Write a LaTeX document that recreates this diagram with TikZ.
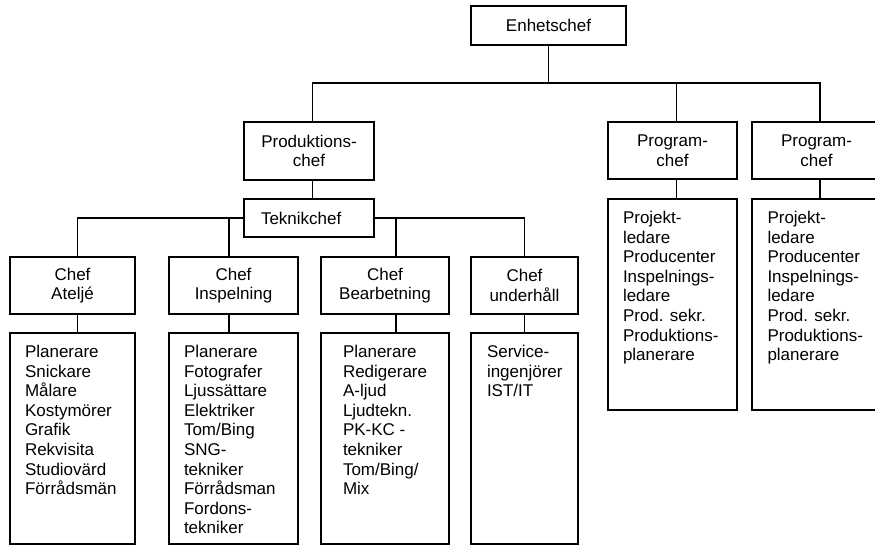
\documentclass[tikz,border=0pt]{standalone}
\usepackage{fontspec}
\setmainfont{Liberation Sans}
% top-aligned staff list: height, width, left inset, lines
\newcommand\roster[4]{\parbox[t][#1][t]{#2}{\raggedright\leftskip=#3\relax\vspace*{10.7pt}\strut #4}}
\tikzset{
  chefbox/.style={draw, anchor=north west, inner sep=0pt, outer sep=0pt, align=center},
  listbox/.style={draw, anchor=north west, inner sep=0pt, outer sep=0pt},
}
\begin{document}
\begin{tikzpicture}[x=1pt, y=-1pt, line width=1.3pt,
  font=\fontsize{17pt}{19.6pt}\selectfont]
\useasboundingbox (0,0) rectangle (875,546);
\fill[white] (0,0) rectangle (875,546);

% management
\node[chefbox, minimum width=155pt, minimum height=39pt] (E) at (471,6) {Enhetschef};
\node[chefbox, minimum width=130pt, minimum height=58pt] (P) at (244,122) {Produktions-\\chef};
\node[chefbox, minimum width=130pt, minimum height=38pt, inner xsep=17pt,
      text width=96pt, align=left] (T) at (244,199) {Teknikchef};
\node[chefbox, minimum width=129pt, minimum height=57pt] (PC1) at (608,122) {Program-\\chef};
\node[chefbox, minimum width=129pt, minimum height=57pt] (PC2) at (752,122) {Program-\\chef};

% department heads
\node[chefbox, minimum width=125pt, minimum height=57pt] (CA) at (10,257) {Chef\\Ateljé};
\node[chefbox, minimum width=129pt, minimum height=57pt] (CI) at (169,257) {Chef\\Inspelning};
\node[chefbox, minimum width=128pt, minimum height=57pt] (CB) at (321,257) {Chef\\Bearbetning};
\node[chefbox, minimum width=107pt, minimum height=57pt] (CU) at (471,257) {Chef\\underhåll};

% staff lists
\node[listbox] (LA) at (10,333) {\roster{211pt}{125pt}{15pt}{Planerare\\Snickare\\Målare\\Kostymörer\\Grafik\\Rekvisita\\Studiovärd\\Förrådsmän}};
\node[listbox] (LI) at (169,333) {\roster{211pt}{129pt}{15pt}{Planerare\\Fotografer\\Ljussättare\\Elektriker\\Tom/Bing\\SNG-\\tekniker\\Förrådsman\\Fordons-\\tekniker}};
\node[listbox] (LB) at (321,333) {\roster{211pt}{128pt}{22pt}{Planerare\\Redigerare\\A-ljud\\Ljudtekn.\\PK-KC -\\tekniker\\Tom/Bing/\\Mix}};
\node[listbox] (LU) at (471,333) {\roster{211pt}{107pt}{16pt}{Service-\\ingenjörer\\IST/IT}};
\node[listbox] (PL1) at (608,199) {\roster{211pt}{129pt}{15pt}{Projekt-\\ledare\\Producenter\\Inspelnings-\\ledare\\Prod. sekr.\\Produktions-\\planerare}};
\node[listbox] (PL2) at (752,199) {\roster{211pt}{129pt}{15.5pt}{Projekt-\\ledare\\Producenter\\Inspelnings-\\ledare\\Prod. sekr.\\Produktions-\\planerare}};

% connector drop points
\coordinate (topbus) at (0,83);
\coordinate (dP) at ([xshift=3.7pt]P.north);
\coordinate (dQ1) at ([xshift=4.2pt]PC1.north);
\coordinate (dQ2) at ([xshift=3.5pt]PC2.north);
\coordinate (dA) at ([xshift=5.2pt]CA.north);
\coordinate (dI) at ([xshift=-4.5pt]CI.north);
\coordinate (dB) at ([xshift=11pt]CB.north);
\coordinate (dU) at (CU.north);

% top level
\draw (E.south) |- (dP |- topbus) -- (dP);
\draw (E.south) |- (dQ2 |- topbus) -- (dQ2);
\draw (dQ1 |- topbus) -- (dQ1);
\draw (P.south -| dP) -- (T.north -| dP);
\draw (PC1.south -| dQ1) -- (PL1.north -| dQ1);
\draw (PC2.south -| dQ2) -- (PL2.north -| dQ2);

% technical branch
\draw (T.west) -| (dA);
\draw (dI |- T.west) -- (dI);
\draw (T.east) -| (dU);
\draw (dB |- T.east) -- (dB);
\draw (CA.south -| dA) -- (LA.north -| dA);
\draw (CI.south -| dI) -- (LI.north -| dI);
\draw (CB.south -| dB) -- (LB.north -| dB);
\draw (CU.south -| dU) -- (LU.north -| dU);
\end{tikzpicture}
\end{document}
